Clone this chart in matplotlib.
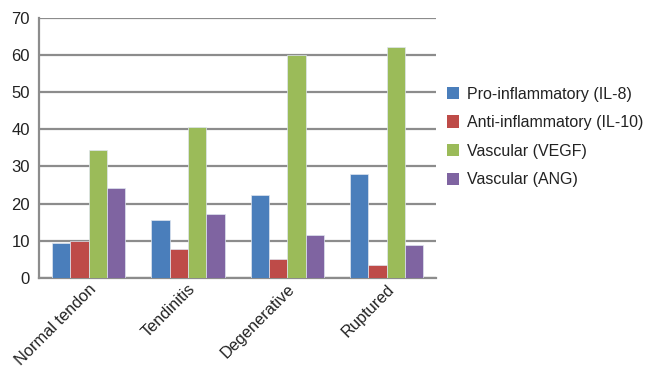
import matplotlib
matplotlib.use("Agg")
import matplotlib.pyplot as plt
import numpy as np
from matplotlib.patches import Patch

plt.rcParams['font.family'] = ['Liberation Sans', 'DejaVu Sans']

categories = ["Normal tendon", "Tendinitis", "Degenerative", "Ruptured"]
series_names = ["Pro-inflammatory (IL-8)", "Anti-inflammatory (IL-10)",
                "Vascular (VEGF)", "Vascular (ANG)"]
il8 = [9.4, 15.5, 22.4, 27.9]
il10 = [10.0, 7.7, 5.0, 3.4]
vegf = [34.3, 40.6, 60.1, 62.1]
ang = [24.1, 17.1, 11.6, 8.8]
yticks = [0, 10, 20, 30, 40, 50, 60, 70]

colors = ["#4A7EBB", "#BE4B48", "#9BBB59", "#7F64A1"]
series = [il8, il10, vegf, ang]

fig = plt.figure(figsize=(6.51, 3.70), dpi=100)
ax = fig.add_axes([0.060, 0.249, 0.610, 0.703])

x = np.arange(len(categories))
w = 0.185
for i, (vals, c) in enumerate(zip(series, colors)):
    ax.bar(x + (i - 1.5) * w, vals, width=w, color=c, zorder=3,
           edgecolor="#dfe6f0", linewidth=0.5)

ax.set_xlim(-0.5, len(categories) - 0.5)
ax.set_ylim(0, 70)
ax.set_yticks(yticks)
ax.yaxis.grid(True, color="#8c8c8c", linewidth=1.6, zorder=0)
ax.set_axisbelow(True)
for s in ["top", "right"]:
    ax.spines[s].set_visible(False)
for s in ["left", "bottom"]:
    ax.spines[s].set_color("#8c8c8c")
    ax.spines[s].set_linewidth(1.6)
ax.tick_params(axis="y", length=0, labelsize=12, colors="#222222", pad=6.5)
ax.tick_params(axis="x", length=0, labelsize=11.8, colors="#222222", pad=2.5)
ax.set_xticks(x)
ax.set_xticklabels(categories, rotation=45, ha="right", rotation_mode="anchor")

handles = [Patch(facecolor=c, edgecolor="none") for c in colors]
fig.legend(handles, series_names, loc="center left",
           bbox_to_anchor=(0.664, 0.63), frameon=False, fontsize=11.5,
           handlelength=0.8, handleheight=0.8, handletextpad=0.5,
           labelspacing=0.85, labelcolor="#222222")

fig.savefig("out.png", dpi=100)
